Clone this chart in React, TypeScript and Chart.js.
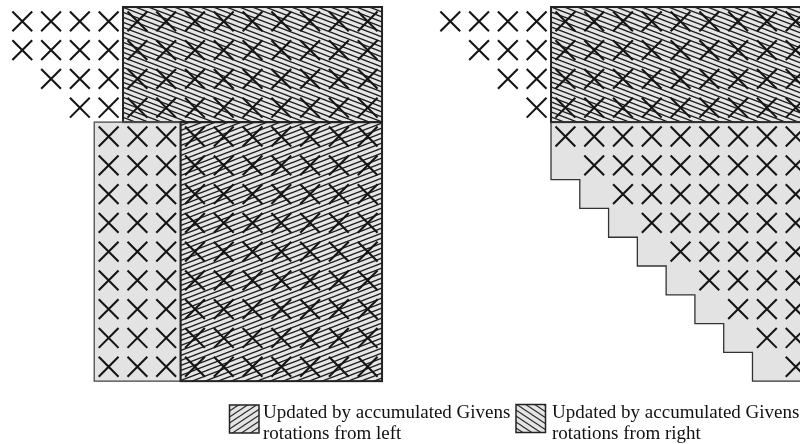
import React, { useEffect, useRef } from "react";
import { Chart, registerables } from "chart.js";

Chart.register(...registerables);

// ---- data ----
const N = 13; // matrix size (rows and columns)
// first column holding an "X" in each row
const leftRowStart = [0, 0, 1, 2, 3, 3, 3, 3, 3, 3, 3, 3, 3];
const rightRowStart = [0, 1, 2, 3, 4, 5, 6, 7, 8, 9, 10, 11, 12];
// shaded blocks (cell index ranges)
const leftBlocks = [
  { r0: 0, r1: 4, c0: 4, c1: 13, kind: "right" },
  { r0: 4, r1: 13, c0: 3, c1: 6, kind: "plain" },
  { r0: 4, r1: 13, c0: 6, c1: 13, kind: "left" },
];
const rightBlocks = [{ r0: 0, r1: 4, c0: 4, c1: 13, kind: "right" }];
// staircase region of the right matrix: first row and start column per row
const stairFirstRow = 4;
const stairStartCol = [4, 4, 5, 6, 7, 8, 9, 10, 11];
const legendLabels = [
  ["Updated by accumulated Givens", "rotations from left"],
  ["Updated by accumulated Givens", "rotations from right"],
];
const legendKinds = ["legendLeft", "legendRight"];

// ---- layout ----
const W = 800;
const H = 444;
const CELL = 28.78;
const LEFT_X0 = 7.9;
const RIGHT_X0 = 435.9;
const TOP_Y0 = 7;
const RIGHT_OFFSET = (RIGHT_X0 - LEFT_X0) / CELL;

function makePattern(dir: "up" | "down", w: number, h: number, lw: number, bg: string, fg: string) {
  const c = document.createElement("canvas");
  c.width = w;
  c.height = h;
  const g = c.getContext("2d")!;
  g.fillStyle = bg;
  g.fillRect(0, 0, w, h);
  g.strokeStyle = fg;
  g.lineWidth = lw;
  for (let k = -2; k <= 2; k++) {
    g.beginPath();
    if (dir === "up") {
      g.moveTo(-w, 2 * h + k * h);
      g.lineTo(2 * w, -h + k * h);
    } else {
      g.moveTo(-w, -h + k * h);
      g.lineTo(2 * w, 2 * h + k * h);
    }
    g.stroke();
  }
  return g.createPattern(c, "repeat")!;
}

function pointsFor(rowStart: number[], offset: number) {
  const pts: { x: number; y: number }[] = [];
  for (let r = 0; r < N; r++) {
    for (let c = rowStart[r]; c < N; c++) {
      pts.push({ x: offset + c + 0.5, y: r + 0.5 });
    }
  }
  return pts;
}

export default function App() {
  const ref = useRef<HTMLCanvasElement>(null);

  useEffect(() => {
    if (!ref.current) return;
    const fills: Record<string, CanvasPattern | string> = {
      plain: "#e3e3e3",
      left: makePattern("up", 13, 5, 1.25, "#e6e6e6", "#1c1c1c"),
      right: makePattern("down", 13, 5, 1.25, "#e6e6e6", "#1c1c1c"),
      legendLeft: makePattern("up", 9, 6, 1.1, "#e4e4e4", "#2a2a2a"),
      legendRight: makePattern("down", 9, 6, 1.1, "#e4e4e4", "#2a2a2a"),
    };

    const rectPx = (chart: any, b: any, offset: number) => {
      const xs = chart.scales.x;
      const ys = chart.scales.y;
      const x0 = xs.getPixelForValue(offset + b.c0);
      const x1 = xs.getPixelForValue(offset + b.c1);
      const y0 = ys.getPixelForValue(b.r0);
      const y1 = ys.getPixelForValue(b.r1);
      return [x0, y0, x1 - x0, y1 - y0];
    };

    const stairPath = (chart: any) => {
      const xs = chart.scales.x;
      const ys = chart.scales.y;
      const px = (c: number) => xs.getPixelForValue(RIGHT_OFFSET + c);
      const py = (r: number) => ys.getPixelForValue(r);
      const ctx = chart.ctx;
      ctx.beginPath();
      ctx.moveTo(px(N), py(stairFirstRow));
      ctx.lineTo(px(N), py(N));
      for (let i = stairStartCol.length - 1; i >= 0; i--) {
        ctx.lineTo(px(stairStartCol[i]), py(stairFirstRow + i + 1));
        ctx.lineTo(px(stairStartCol[i]), py(stairFirstRow + i));
      }
      ctx.closePath();
    };

    const cellsPlugin = {
      id: "cells",
      beforeDatasetsDraw(chart: any) {
        const ctx = chart.ctx;
        ctx.save();
        const all = [
          ...leftBlocks.map((b) => [b, 0] as const),
          ...rightBlocks.map((b) => [b, RIGHT_OFFSET] as const),
        ];
        for (const [b, off] of all) {
          const [x, y, w, h] = rectPx(chart, b, off);
          ctx.fillStyle = fills[b.kind];
          ctx.fillRect(x, y, w, h);
        }
        stairPath(chart);
        ctx.fillStyle = fills.plain;
        ctx.fill();
        ctx.restore();
      },
      afterDatasetsDraw(chart: any) {
        const ctx = chart.ctx;
        ctx.save();
        const all = [
          ...leftBlocks.map((b) => [b, 0] as const),
          ...rightBlocks.map((b) => [b, RIGHT_OFFSET] as const),
        ];
        for (const [b, off] of all) {
          const [x, y, w, h] = rectPx(chart, b, off);
          if (b.kind === "plain") {
            ctx.strokeStyle = "#555";
            ctx.lineWidth = 1.4;
          } else {
            ctx.strokeStyle = "#222";
            ctx.lineWidth = 2;
          }
          ctx.strokeRect(x, y, w, h);
        }
        stairPath(chart);
        ctx.strokeStyle = "#333";
        ctx.lineWidth = 1.3;
        ctx.stroke();

        // legend
        const boxes = [
          { bx: 229.5, by: 405, tx: 263 },
          { bx: 516, by: 404.5, tx: 552 },
        ];
        ctx.font = '19px "Liberation Serif", "Times New Roman", serif';
        ctx.textBaseline = "alphabetic";
        ctx.textAlign = "left";
        legendLabels.forEach((lines, i) => {
          const p = boxes[i];
          ctx.fillStyle = fills[legendKinds[i]];
          ctx.fillRect(p.bx, p.by, 29.5, 28);
          ctx.strokeStyle = "#222";
          ctx.lineWidth = 1.5;
          ctx.strokeRect(p.bx, p.by, 29.5, 28);
          ctx.fillStyle = "#111";
          lines.forEach((t, j) => ctx.fillText(t, p.tx, 418 + j * 21));
        });
        ctx.restore();
      },
    };

    const xMin = -LEFT_X0 / CELL;
    const yMin = -TOP_Y0 / CELL;
    const crossDs = (data: any[]) => ({
      data,
      pointStyle: "crossRot",
      pointRadius: 14,
      pointHoverRadius: 14,
      borderColor: "#151515",
      backgroundColor: "#151515",
      pointBorderWidth: 2.1,
      borderWidth: 2.1,
      showLine: false,
      clip: false,
    });

    const chart = new Chart(ref.current, {
      type: "scatter",
      data: {
        datasets: [crossDs(pointsFor(leftRowStart, 0)), crossDs(pointsFor(rightRowStart, RIGHT_OFFSET))],
      },
      options: {
        animation: false,
        responsive: false,
        events: [],
        layout: { padding: 0, autoPadding: false },
        plugins: { legend: { display: false }, tooltip: { enabled: false }, title: { display: false } },
        scales: {
          x: { type: "linear", display: false, min: xMin, max: xMin + W / CELL },
          y: { type: "linear", display: false, reverse: true, min: yMin, max: yMin + H / CELL },
        },
      },
      plugins: [cellsPlugin],
    } as any);
    return () => chart.destroy();
  }, []);

  return (
    <div style={{ position: "absolute", left: 0, top: 0, width: W, height: H, overflow: "hidden", background: "#fff" }}>
      <canvas ref={ref} width={W} height={H} style={{ display: "block", width: W, height: H }} />
    </div>
  );
}
